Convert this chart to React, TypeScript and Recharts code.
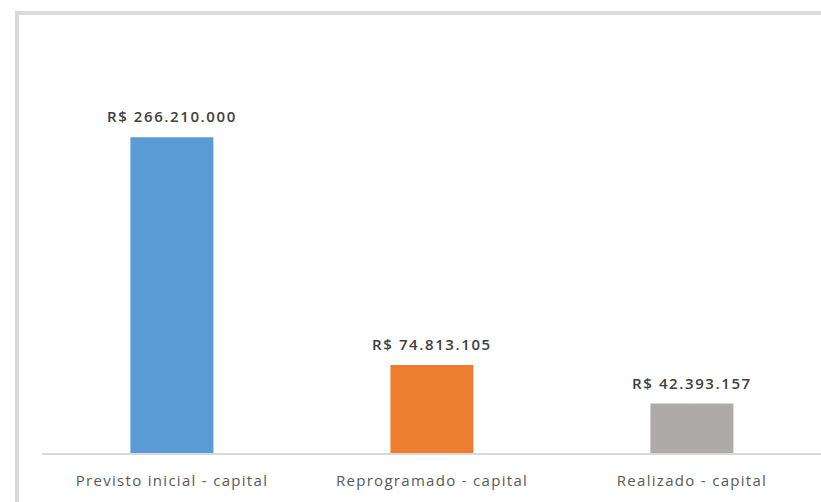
import { Bar, BarChart, Cell, LabelList, XAxis, YAxis } from "recharts";

const categories = [
  "Previsto inicial - capital",
  "Reprogramado - capital",
  "Realizado - capital",
];
const values = [266210000, 74813105, 42393157];
const colors = ["#5B9BD5", "#ED7D31", "#AEAAAA"];

const data = categories.map((name, i) => ({ name, value: values[i] }));

function formatBRL(value: number): string {
  const s = Math.round(value).toString().replace(/\B(?=(\d{3})+(?!\d))/g, ".");
  return `R$ ${s}`;
}

const FONT = "'Open Sans', sans-serif";

function CategoryTick({ x, y, payload }: any) {
  return (
    <text
      x={x}
      y={y + 24}
      textAnchor="middle"
      fill="#595959"
      fontFamily={FONT}
      fontSize={15}
      letterSpacing={1.3}
    >
      {payload.value}
    </text>
  );
}

function ValueLabel({ x, y, width, value }: any) {
  return (
    <text
      x={x + width / 2}
      y={y - 15}
      textAnchor="middle"
      fill="#404040"
      fontFamily={FONT}
      fontSize={15}
      fontWeight={600}
      letterSpacing={1.6}
    >
      {formatBRL(Number(value))}
    </text>
  );
}

export default function App() {
  return (
    <div
      style={{
        position: "fixed",
        left: 0,
        top: 0,
        width: 821,
        height: 502,
        background: "#fff",
        overflow: "hidden",
      }}
    >
      <div
        style={{
          position: "absolute",
          left: 15,
          top: 11,
          width: 900,
          height: 600,
          border: "4px solid #dadada",
          boxSizing: "border-box",
        }}
      />
      <div style={{ position: "absolute", left: 0, top: 0 }}>
        <BarChart
          width={822}
          height={502}
          data={data}
          margin={{ top: 97, right: 0, left: 42, bottom: 18 }}
          barCategoryGap="34%"
        >
          <YAxis hide domain={[0, 300000000]} />
          <XAxis
            dataKey="name"
            axisLine={{ stroke: "#d9d9d9", strokeWidth: 2 }}
            tickLine={false}
            tick={<CategoryTick />}
            interval={0}
          />
          <Bar dataKey="value" isAnimationActive={false}>
            {data.map((d, i) => (
              <Cell key={d.name} fill={colors[i]} />
            ))}
            <LabelList dataKey="value" content={<ValueLabel />} />
          </Bar>
        </BarChart>
      </div>
    </div>
  );
}
